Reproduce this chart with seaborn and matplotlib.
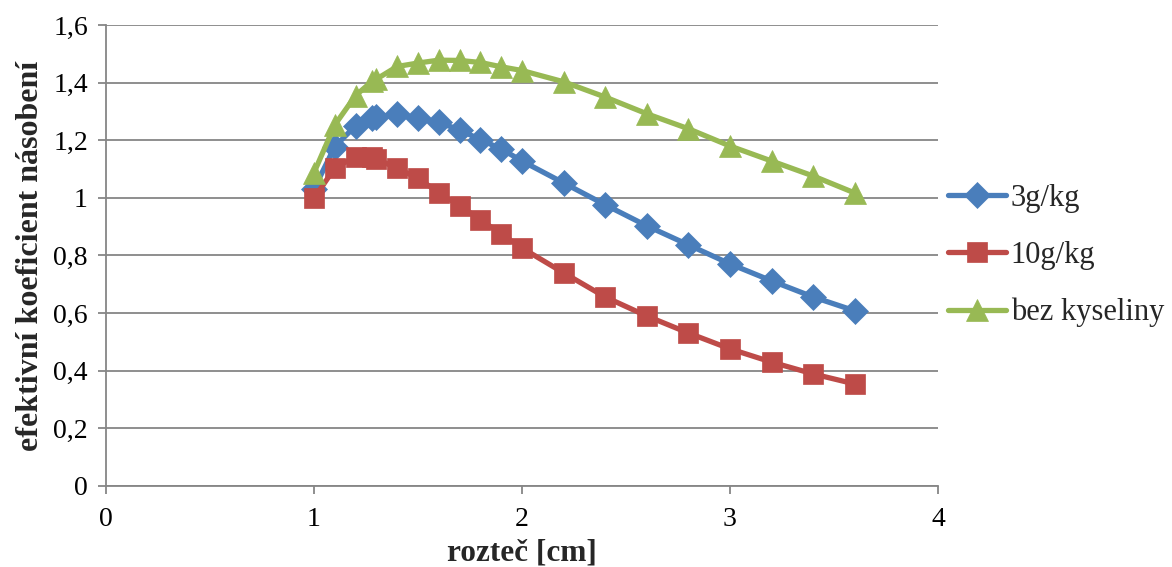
import matplotlib
matplotlib.use("Agg")
import matplotlib.pyplot as plt
import seaborn as sns
import pandas as pd

x_vals = [1.0, 1.1, 1.2, 1.28, 1.3, 1.4, 1.5, 1.6, 1.7, 1.8, 1.9, 2.0,
          2.2, 2.4, 2.6, 2.8, 3.0, 3.2, 3.4, 3.6]
s_3g = [1.03, 1.178, 1.25, 1.277, 1.28, 1.29, 1.277, 1.262, 1.236, 1.202, 1.17, 1.128,
        1.052, 0.976, 0.903, 0.837, 0.771, 0.712, 0.656, 0.608]
s_10g = [0.998, 1.104, 1.143, 1.141, 1.135, 1.103, 1.068, 1.018, 0.973, 0.924, 0.875, 0.826,
         0.74, 0.656, 0.59, 0.531, 0.476, 0.43, 0.389, 0.354]
s_bez = [1.087, 1.253, 1.355, 1.405, 1.412, 1.456, 1.468, 1.478, 1.477, 1.47, 1.455, 1.442,
         1.403, 1.35, 1.292, 1.24, 1.18, 1.128, 1.076, 1.017]
series_names = ["3g/kg", "10g/kg", "bez kyseliny"]
y_ticks = [0, 0.2, 0.4, 0.6, 0.8, 1.0, 1.2, 1.4, 1.6]
y_tick_labels = ["0", "0,2", "0,4", "0,6", "0,8", "1", "1,2", "1,4", "1,6"]
x_ticks = [0, 1, 2, 3, 4]

sns.set_theme(style="white")
plt.rcParams["font.family"] = ["Liberation Serif", "DejaVu Serif"]

frames = []
for name, vals in zip(series_names, [s_3g, s_10g, s_bez]):
    frames.append(pd.DataFrame({"x": x_vals, "y": vals, "series": name}))
df = pd.concat(frames, ignore_index=True)

colors = {"3g/kg": "#4A7EBB", "10g/kg": "#BE4B48", "bez kyseliny": "#98B954"}
markers = {"3g/kg": "D", "10g/kg": "s", "bez kyseliny": "^"}
msizes = {"3g/kg": 13.5, "10g/kg": 14.5, "bez kyseliny": 15.5}

fig = plt.figure(figsize=(11.72, 5.67), dpi=100)
ax = fig.add_axes([0.0904, 0.1429, 0.7099, 0.8130])

for name in series_names:
    sub = df[df["series"] == name]
    sns.lineplot(data=sub, x="x", y="y", ax=ax, color=colors[name], linewidth=3.8,
                 marker=markers[name], markersize=msizes[name],
                 markeredgecolor=colors[name], markeredgewidth=0.5,
                 label=name, sort=False, estimator=None, zorder=3)

ax.set_xlim(0, 4)
ax.set_ylim(0, 1.6)
ax.set_xticks(x_ticks)
ax.set_xticklabels([str(t) for t in x_ticks])
ax.set_yticks(y_ticks)
ax.set_yticklabels(y_tick_labels)
ax.yaxis.grid(True, color="#868686", linewidth=1.3)
ax.xaxis.grid(False)
ax.set_axisbelow(True)
for s in ["top", "right"]:
    ax.spines[s].set_visible(False)
for s in ["left", "bottom"]:
    ax.spines[s].set_color("#868686")
    ax.spines[s].set_linewidth(1.3)
ax.tick_params(axis="both", which="major", labelsize=20, colors="#868686",
               labelcolor="black", length=6, width=1.3, direction="out",
               bottom=True, left=True)
ax.tick_params(axis="x", pad=9)
ax.tick_params(axis="y", pad=7)
ax.set_xlabel("rozteč [cm]", fontsize=22.5, fontweight="bold", labelpad=5)
ax.set_ylabel("efektivní koeficient násobení", fontsize=23, fontweight="bold", labelpad=6)

leg = ax.legend(loc="center left", bbox_to_anchor=(1.012, 0.5), frameon=False,
                fontsize=22, handlelength=1.9, handletextpad=0.15, labelspacing=0.92,
                borderaxespad=0, borderpad=0)

fig.savefig("out.png", dpi=100)
